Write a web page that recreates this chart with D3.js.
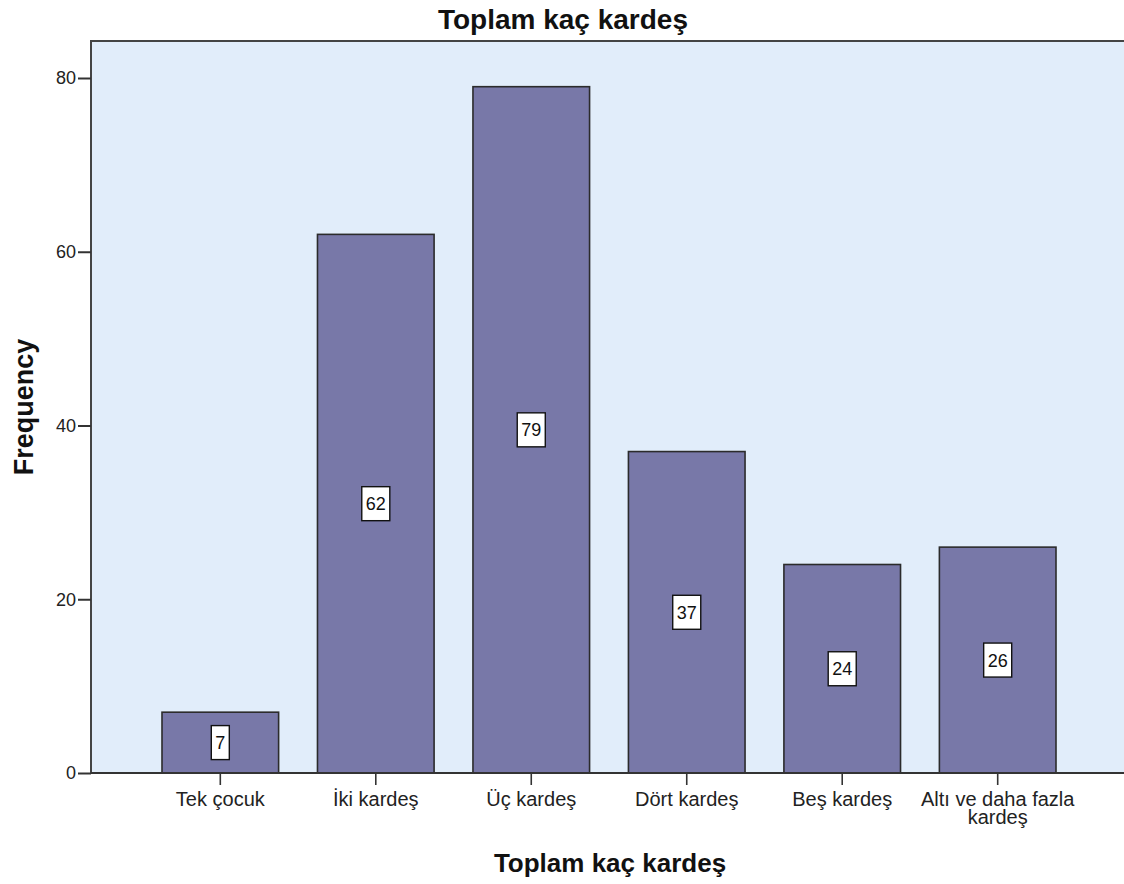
<!DOCTYPE html>
<html>
<head>
<meta charset="utf-8">
<script src="https://cdn.jsdelivr.net/npm/d3@7"></script>
<style>
  html, body { margin: 0; padding: 0; background: #fff; }
  svg { display: block; font-family: Arial, "Liberation Sans", sans-serif; }
</style>
</head>
<body>
<svg id="chart" width="1124" height="884"></svg>
<script>
// Frequency of number of siblings
const categories = ["Tek çocuk", "İki kardeş", "Üç kardeş", "Dört kardeş", "Beş kardeş", "Altı ve daha fazla kardeş"];
const categoryLines = [["Tek çocuk"], ["İki kardeş"], ["Üç kardeş"], ["Dört kardeş"], ["Beş kardeş"], ["Altı ve daha fazla", "kardeş"]];
const frequencies = [7, 62, 79, 37, 24, 26];
const yTicks = [0, 20, 40, 60, 80];

const svg = d3.select("#chart");
const FONT = "Arial, 'Liberation Sans', sans-serif";
const plot = { left: 91, top: 41, right: 1124, bottom: 773 };

const x = d3.scaleBand()
  .domain(categories)
  .range([162, 1056])
  .paddingInner(0.25)
  .paddingOuter(0);

const y = d3.scaleLinear()
  .domain([0, 80])
  .range([plot.bottom, 78]);

// plot background
svg.append("rect")
  .attr("x", plot.left).attr("y", plot.top)
  .attr("width", plot.right - plot.left).attr("height", plot.bottom - plot.top)
  .attr("fill", "#e1edfa");

// frame (top and left)
svg.append("path")
  .attr("d", `M${plot.left},${plot.bottom}V${plot.top}H${plot.right}`)
  .attr("fill", "none").attr("stroke", "#444").attr("stroke-width", 2);

// bars
svg.append("g").selectAll("rect")
  .data(frequencies)
  .join("rect")
  .attr("x", (d, i) => x(categories[i]))
  .attr("y", d => y(d))
  .attr("width", x.bandwidth())
  .attr("height", d => y(0) - y(d))
  .attr("fill", "#7878a8")
  .attr("stroke", "#2b2b2b")
  .attr("stroke-width", 1.6);

// value labels in boxes
const lbl = svg.append("g").selectAll("g")
  .data(frequencies)
  .join("g")
  .attr("transform", (d, i) => `translate(${x(categories[i]) + x.bandwidth() / 2},${y(d / 2)})`);
lbl.append("text")
  .attr("text-anchor", "middle")
  .attr("dy", "0.36em")
  .attr("font-size", 18)
  .attr("font-family", FONT)
  .attr("fill", "#111")
  .text(d => d)
  .each(function () {
    const b = this.getBBox();
    d3.select(this.parentNode).insert("rect", "text")
      .attr("x", b.x - 4).attr("y", -17)
      .attr("width", b.width + 8).attr("height", 34)
      .attr("fill", "#fff").attr("stroke", "#111").attr("stroke-width", 1.4);
  });

// y axis
const yAxis = svg.append("g")
  .attr("transform", `translate(${plot.left},0)`)
  .call(d3.axisLeft(y).tickValues(yTicks).tickSize(13).tickSizeOuter(0).tickFormat(d3.format("d")));
yAxis.select(".domain").remove();
yAxis.selectAll(".tick line").attr("stroke", "#333").attr("stroke-width", 2);
yAxis.selectAll(".tick text").attr("font-size", 18).attr("fill", "#222").attr("x", -15)
  .attr("font-family", FONT);

// x axis
const xAxis = svg.append("g")
  .attr("transform", `translate(0,${plot.bottom})`)
  .call(d3.axisBottom(x).tickSize(12).tickSizeOuter(0).tickFormat(""));
xAxis.select(".domain").remove();
xAxis.selectAll(".tick line").attr("stroke", "#333").attr("stroke-width", 1.6);
svg.append("line")
  .attr("x1", plot.left).attr("x2", plot.right)
  .attr("y1", plot.bottom).attr("y2", plot.bottom)
  .attr("stroke", "#333").attr("stroke-width", 2);

xAxis.selectAll(".tick").each(function (d, i) {
  const t = d3.select(this).append("text")
    .attr("text-anchor", "middle")
    .attr("font-size", 20)
    .attr("fill", "#222")
    .attr("font-family", FONT);
  categoryLines[i].forEach((line, j) => {
    t.append("tspan").attr("x", 0).attr("y", 33 + j * 18).text(line);
  });
});

// titles
svg.append("text")
  .attr("x", 563).attr("y", 29)
  .attr("text-anchor", "middle")
  .attr("font-family", FONT)
  .attr("font-size", 28).attr("font-weight", "bold").attr("fill", "#111")
  .text("Toplam kaç kardeş");

svg.append("text")
  .attr("x", 610).attr("y", 872)
  .attr("text-anchor", "middle")
  .attr("font-family", FONT)
  .attr("font-size", 26).attr("font-weight", "bold").attr("fill", "#111")
  .text("Toplam kaç kardeş");

svg.append("text")
  .attr("transform", `translate(33,407) rotate(-90)`)
  .attr("text-anchor", "middle")
  .attr("font-family", FONT)
  .attr("font-size", 27).attr("font-weight", "bold").attr("fill", "#111")
  .text("Frequency");
</script>
</body>
</html>
